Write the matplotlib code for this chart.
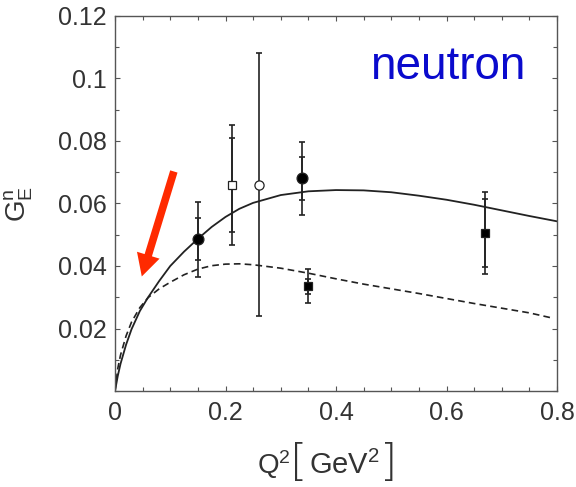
import numpy as np
import matplotlib
matplotlib.use('Agg')
import matplotlib.pyplot as plt
from matplotlib.ticker import MultipleLocator, FuncFormatter
from matplotlib.patches import FancyArrowPatch

plt.rcParams['font.family'] = ['Liberation Sans', 'DejaVu Sans']
plt.rcParams['mathtext.default'] = 'regular'

# model curves
q2_curve = [0, 0.005, 0.01, 0.02, 0.03, 0.045, 0.06, 0.08, 0.1, 0.125, 0.15, 0.175, 0.2,
            0.225, 0.25, 0.3, 0.35, 0.4, 0.45, 0.5, 0.55, 0.6, 0.65, 0.7, 0.75, 0.8]
ge_solid = [0, 0.0048, 0.0087, 0.0148, 0.0198, 0.0256, 0.0300, 0.0352, 0.0400, 0.0446,
            0.0487, 0.0525, 0.0557, 0.0583, 0.0602, 0.0627, 0.0639, 0.0643, 0.0642,
            0.0636, 0.0625, 0.0612, 0.0596, 0.0578, 0.056, 0.0543]
q2_dash = [0, 0.005, 0.01, 0.02, 0.03, 0.045, 0.06, 0.08, 0.1, 0.125, 0.15, 0.175, 0.2,
           0.225, 0.25, 0.3, 0.35, 0.4, 0.45, 0.5, 0.55, 0.6, 0.65, 0.7, 0.75, 0.79]
ge_dash = [0, 0.0072, 0.0115, 0.0176, 0.0221, 0.0267, 0.0299, 0.0327, 0.0348, 0.0372,
           0.039, 0.0401, 0.0406, 0.0407, 0.0404, 0.0393, 0.0377, 0.0359, 0.0342,
           0.0327, 0.0312, 0.0296, 0.028, 0.0265, 0.025, 0.0234]

# measurements
q2_pts = [0.150, 0.211, 0.261, 0.338, 0.349, 0.670]
ge_pts = [0.0485, 0.066, 0.066, 0.068, 0.0335, 0.0505]
err_in = [0.0067, 0.015, 0.0, 0.0068, 0.0024, 0.0109]
err_out = [0.012, 0.0192, 0.042, 0.0118, 0.0055, 0.0131]

x_ticks = [0, 0.2, 0.4, 0.6, 0.8]
y_ticks = [0.02, 0.04, 0.06, 0.08, 0.1, 0.12]

# red arrow (tail, tip) in data units
arrow_tail = (0.108, 0.0711)
arrow_tip = (0.047, 0.0358)

mk = [('o', 7.8, 'k'), ('s', 5.6, 'w'), ('o', 6.6, 'w'), ('o', 7.8, 'k'), ('s', 5.3, 'k'), ('s', 5.8, 'k')]
ink = '#222222'
frame = '#555555'
txt = '#333333'

W, H = 576, 487
fig = plt.figure(figsize=(W / 100, H / 100), dpi=100)
ax = fig.add_axes([115 / W, 1 - 391 / H, 442 / W, 375 / H])

ax.plot(q2_curve, ge_solid, color=ink, lw=1.3)
ax.plot(q2_dash, ge_dash, color=ink, lw=1.2, ls=(0, (4, 2.5)))

for i in range(len(q2_pts)):
    m, ms, fc = mk[i]
    ax.errorbar(q2_pts[i], ge_pts[i], yerr=err_out[i], fmt='none', ecolor=ink,
                elinewidth=1.2, capsize=2.5, capthick=1.2)
    if err_in[i] > 0:
        ax.errorbar(q2_pts[i], ge_pts[i], yerr=err_in[i], fmt='none', ecolor=ink,
                    elinewidth=1.2, capsize=2.3, capthick=1.2)
    ax.plot(q2_pts[i], ge_pts[i], marker=m, ms=ms, mfc=fc, mec=ink, mew=0.9, ls='none', zorder=5)

arr = FancyArrowPatch(arrow_tail, arrow_tip, arrowstyle='simple,tail_width=5.5,head_width=17,head_length=16',
                      mutation_scale=1, color='#ff2a00', lw=0, zorder=6)
ax.add_patch(arr)

ax.text(0.462, 0.0998, 'neutron', color='#0a0acd', fontsize=33, va='baseline', ha='left')

ax.set_xlim(0, 0.8)
ax.set_ylim(0, 0.12)
ax.set_xticks(x_ticks)
ax.set_yticks(y_ticks)
ax.xaxis.set_minor_locator(MultipleLocator(0.05))
ax.yaxis.set_minor_locator(MultipleLocator(0.01))
fmt = FuncFormatter(lambda v, p: '%g' % round(v, 3))
ax.xaxis.set_major_formatter(fmt)
ax.yaxis.set_major_formatter(fmt)
ax.tick_params(which='both', direction='in', top=True, right=True, color=frame,
               labelcolor=txt, labelsize=18)
ax.tick_params(which='major', length=3.5, width=0.8)
ax.tick_params(which='minor', length=3, width=0.8)
ax.tick_params(axis='x', pad=7)
ax.tick_params(axis='y', pad=6)
for s in ax.spines.values():
    s.set_color(frame)
    s.set_linewidth(1.0)

# x label built from pieces so the brackets can be tall
fig.text(257 / W, 1 - 474 / H, r'$\mathregular{Q^2}$', fontsize=20, color=txt, va='baseline')
fig.text(290 / W, 1 - 476 / H, '[', fontsize=32, color=txt, va='baseline',
         family='DejaVu Sans', fontweight='light')
fig.text(309 / W, 1 - 474 / H, r'$\mathregular{GeV^2}$', fontsize=21, color=txt, va='baseline')
fig.text(380 / W, 1 - 476 / H, ']', fontsize=32, color=txt, va='baseline',
         family='DejaVu Sans', fontweight='light')

ax.set_ylabel(r'$\mathregular{G_E^n}$', fontsize=20, color=txt)
ax.yaxis.set_label_coords(-0.18, 0.5)

fig.savefig('out.png', dpi=100)
